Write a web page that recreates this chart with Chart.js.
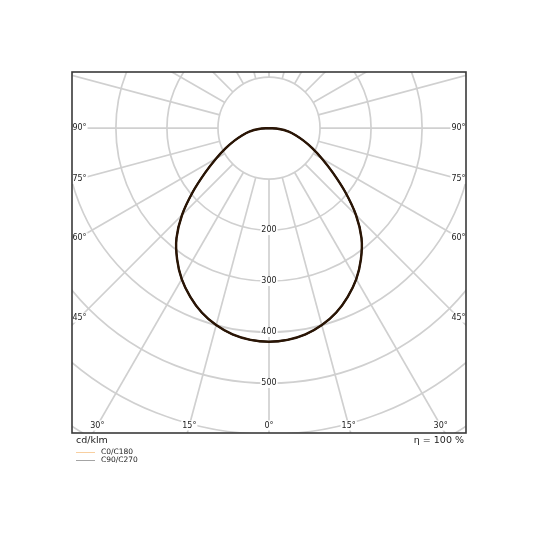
<!DOCTYPE html>
<html lang="en">
<head>
  <meta charset="UTF-8" />
  <title>Luminous intensity distribution</title>
  <script src="https://cdn.jsdelivr.net/npm/chart.js"></script>
  <style>
    body {
      margin: 0;
      background: #fff;
      font-family: "DejaVu Sans", sans-serif;
      color: #222;
    }
    .wrap {
      position: relative;
      width: 540px;
      height: 540px;
    }
    canvas {
      position: absolute;
      left: 0;
      top: 0;
    }
    .note {
      position: absolute;
      top: 434px;
      font-size: 9.5px;
      line-height: 11px;
    }
    .key {
      position: absolute;
      left: 76px;
      width: 19px;
      height: 1px;
    }
    .key-label {
      position: absolute;
      left: 101px;
      font-size: 7.5px;
      line-height: 8px;
    }
  </style>
</head>
<body>
  <div class="wrap">
    <canvas id="polar" width="540" height="540"></canvas>
    <div class="note" style="left:76px">cd/klm</div>
    <div class="note" style="right:76px">η = 100 %</div>

    <!-- Legend -->
    <div class="key" style="top:452px; background:#f8cfa0"></div>
    <div class="key-label" style="top:448px">C0/C180</div>
    <div class="key" style="top:460px; background:#a4a4a4"></div>
    <div class="key-label" style="top:456px">C90/C270</div>
  </div>

  <script>
    // gamma angle (deg from nadir) and intensity in cd/klm
    const gammaAngles = [0, 5, 10, 15, 20, 25, 30, 35, 40, 45, 50, 55, 60, 65, 70, 75, 80, 85, 90];
    const c0c180 = [419, 417, 411, 400, 385, 365, 342, 314, 282, 241, 195, 153, 120, 94, 72, 54, 39, 20, 0];
    const c90c270 = [419, 417, 411, 400, 385, 365, 342, 314, 282, 241, 195, 153, 120, 94, 72, 54, 39, 20, 0];

    const ringValues = [100, 200, 300, 400, 500, 600, 700, 800];
    const ringLabels = ["200", "300", "400", "500"];
    const angleLabels = [0, 15, 30, 45, 60, 75, 90];
    const spokeStep = 15;

    // polar -> cartesian, nadir pointing down, both half planes
    function toPoints(values) {
      const pts = [];
      for (let i = gammaAngles.length - 1; i >= 0; i--) {
        const a = gammaAngles[i] * Math.PI / 180;
        pts.push({ x: -values[i] * Math.sin(a), y: -values[i] * Math.cos(a) });
      }
      for (let i = 1; i < gammaAngles.length; i++) {
        const a = gammaAngles[i] * Math.PI / 180;
        pts.push({ x: values[i] * Math.sin(a), y: -values[i] * Math.cos(a) });
      }
      return pts;
    }

    const polarGrid = {
      id: "polarGrid",
      beforeDatasetsDraw(chart) {
        const { ctx, chartArea: area } = chart;
        const xs = chart.scales.x, ys = chart.scales.y;
        const cx = xs.getPixelForValue(0), cy = ys.getPixelForValue(0);
        const k = xs.getPixelForValue(100) - cx;

        ctx.save();
        ctx.beginPath();
        ctx.rect(area.left, area.top, area.right - area.left, area.bottom - area.top);
        ctx.clip();
        ctx.strokeStyle = "#d0d0d0";
        ctx.lineWidth = 1.7;

        ringValues.forEach(v => {
          ctx.beginPath();
          ctx.arc(cx, cy, v / 100 * k, 0, Math.PI * 2);
          ctx.stroke();
        });

        for (let a = 0; a < 360; a += spokeStep) {
          const r = a * Math.PI / 180;
          const r0 = k, r1 = 12 * k;
          ctx.beginPath();
          ctx.moveTo(cx + r0 * Math.sin(r), cy + r0 * Math.cos(r));
          ctx.lineTo(cx + r1 * Math.sin(r), cy + r1 * Math.cos(r));
          ctx.stroke();
        }

        ctx.font = "8px 'DejaVu Sans'";
        ctx.textAlign = "center";
        ctx.textBaseline = "middle";

        function label(text, x, y) {
          const w = ctx.measureText(text).width;
          ctx.fillStyle = "#fff";
          ctx.fillRect(x - w / 2 - 1, y - 5, w + 2, 10);
          ctx.fillStyle = "#222";
          ctx.fillText(text, x, y);
        }

        ringLabels.forEach(t => {
          label(t, cx, ys.getPixelForValue(-Number(t)));
        });

        const inset = 7.5;
        const halfW = cx - area.left;
        angleLabels.forEach(a => {
          const t = Math.tan(a * Math.PI / 180);
          const sides = a === 0 ? [1] : [-1, 1];
          sides.forEach(s => {
            let lx, ly;
            const yb = area.bottom - inset;
            if (a === 90 || t * (yb - cy) > halfW - inset) {
              lx = cx + s * (halfW - inset);
              ly = a === 90 ? cy : cy + (halfW - inset) / t;
            } else {
              ly = yb;
              lx = cx + s * (ly - cy) * t;
            }
            label(a + "°", lx, ly);
          });
        });
        ctx.restore();
      },
      afterDraw(chart) {
        const { ctx, chartArea: area } = chart;
        ctx.save();
        ctx.strokeStyle = "#3a3a3a";
        ctx.lineWidth = 1.6;
        ctx.strokeRect(area.left, area.top, area.right - area.left, area.bottom - area.top);
        ctx.restore();
      }
    };

    new Chart(document.getElementById("polar"), {
      type: "scatter",
      data: {
        datasets: [
          {
            label: "C0/C180",
            data: toPoints(c0c180),
            showLine: true,
            borderColor: "#2a1505",
            borderWidth: 2.4,
            pointRadius: 0,
            tension: 0.3
          },
          {
            label: "C90/C270",
            data: toPoints(c90c270),
            showLine: true,
            borderColor: "#000",
            borderWidth: 1.7,
            pointRadius: 0,
            tension: 0.3
          }
        ]
      },
      options: {
        responsive: false,
        animation: false,
        layout: { padding: { left: 72, right: 74, top: 72, bottom: 107 } },
        plugins: { legend: { display: false }, tooltip: { enabled: false } },
        scales: {
          x: { type: "linear", min: -386, max: 386, display: false },
          y: { type: "linear", min: -598, max: 110, display: false }
        }
      },
      plugins: [polarGrid]
    });
  </script>
</body>
</html>
